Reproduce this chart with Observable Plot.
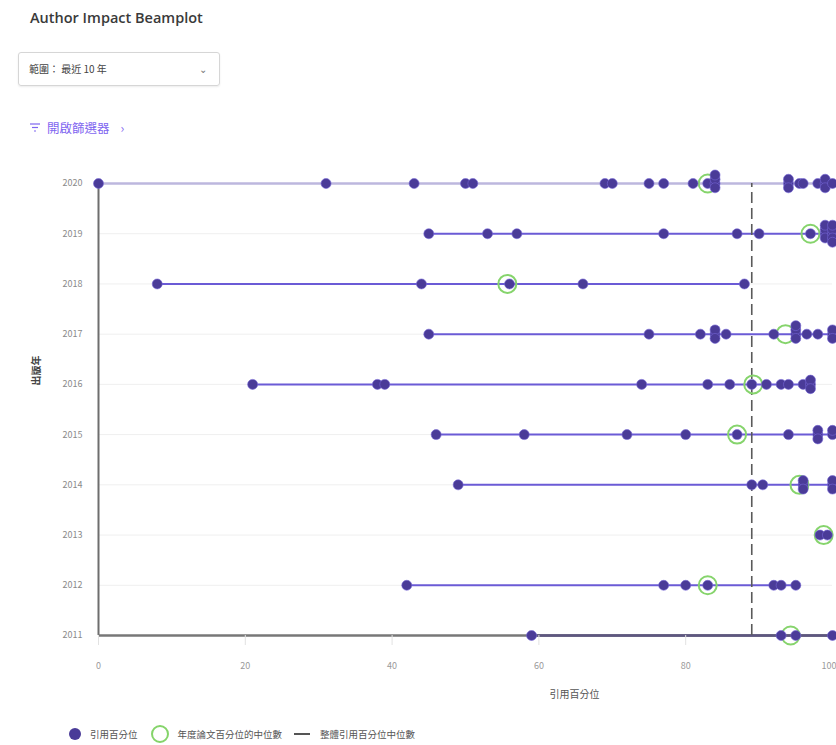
<!DOCTYPE html>
<html>
<head>
<meta charset="utf-8">
<script src="https://cdn.jsdelivr.net/npm/d3@7"></script>
<script src="https://cdn.jsdelivr.net/npm/@observablehq/plot@0.6"></script>
<style>
  body { margin: 0; background: #fff; font-family: "Noto Sans CJK TC", "Noto Sans", "Open Sans", sans-serif; color: #333; }
  #page { position: relative; width: 836px; height: 745px; overflow: hidden; }
  .title { position: absolute; left: 30px; top: 8px; font-family: "Open Sans", "Noto Sans", sans-serif; font-size: 14.5px; font-weight: 600; color: #3a3a3a; }
  .select { position: absolute; left: 18px; top: 52px; width: 200px; height: 32px; border: 1px solid #d6d6d6; border-radius: 3px; box-shadow: 0 1px 2px rgba(0,0,0,0.08); font-size: 10px; color: #444; }
  .select .lbl { position: absolute; left: 10px; top: 8px; }
  .select .chev { position: absolute; right: 12px; top: 8px; font-size: 10px; color: #777; }
  .filter { position: absolute; left: 30px; top: 118px; font-size: 12.5px; color: #7f66f0; display: flex; align-items: center; gap: 7px; }
  #chart { position: absolute; left: 0; top: 150px; }
  .legend { position: absolute; left: 68px; top: 724px; display: flex; align-items: center; font-size: 9.5px; color: #555; }
  .legend .item { display: flex; align-items: center; margin-right: 12px; }
  .legend svg { margin-right: 8px; }
</style>
</head>
<body>
<div id="page">
  <div class="title">Author Impact Beamplot</div>
  <div class="select"><span class="lbl">範圍： 最近 10 年</span><span class="chev">⌄</span></div>
  <div class="filter">
    <svg width="10" height="9"><line x1="0" y1="1" x2="10" y2="1" stroke="#7f66f0" stroke-width="1.2"/><line x1="2" y1="4.5" x2="8" y2="4.5" stroke="#7f66f0" stroke-width="1.2"/><line x1="4" y1="8" x2="6" y2="8" stroke="#7f66f0" stroke-width="1.2"/></svg>
    <span>開啟篩選器</span><span style="margin-left:4px">›</span>
  </div>
  <div id="chart"></div>
  <div class="legend">
    <div class="item"><svg width="14" height="14"><circle cx="7" cy="7" r="6" fill="#4a3b98"/></svg><span>引用百分位</span></div>
    <div class="item"><svg width="20" height="20"><circle cx="10" cy="10" r="8" fill="none" stroke="#85d46a" stroke-width="2"/></svg><span>年度論文百分位的中位數</span></div>
    <div class="item"><svg width="18" height="10"><line x1="0" y1="5" x2="16" y2="5" stroke="#555" stroke-width="2"/></svg><span>整體引用百分位中位數</span></div>
  </div>
</div>
<script>
// ---- data ----
const years = [2020, 2019, 2018, 2017, 2016, 2015, 2014, 2013, 2012, 2011];
const p2020 = [0, 31, 43, 50, 51, 69, 70, 75, 77, 81, 83, 84, 84, 84, 84, 94, 94, 94, 95.5, 96, 98, 99, 99, 99, 100];
const p2019 = [45, 53, 57, 77, 87, 90, 97, 99, 99, 99, 99, 100, 100, 100, 100, 100];
const p2018 = [8, 44, 56, 66, 88];
const p2017 = [45, 75, 82, 84, 84, 84, 85.5, 92, 95, 95, 95, 95, 96.5, 98, 100, 100, 100];
const p2016 = [21, 38, 39, 74, 83, 86, 89, 91, 93, 94, 96, 97, 97, 97];
const p2015 = [46, 58, 72, 80, 87, 94, 98, 98, 98, 100, 100];
const p2014 = [49, 89, 90.5, 96, 96, 96, 100, 100, 100];
const p2013 = [98.3, 99.3];
const p2012 = [42, 77, 80, 83, 92, 93, 95];
const p2011 = [59, 93, 95, 100];
const percentilesByYear = [p2020, p2019, p2018, p2017, p2016, p2015, p2014, p2013, p2012, p2011];
const yearMedians = [83, 97, 55.7, 93.6, 89.2, 87, 95.5, 98.8, 83, 94.3];
const overallMedian = 89;
const xTicks = [0, 20, 40, 60, 80, 100];

// ---- tables built from the arrays ----
const stackStep = 0.085; // vertical spread (in years) for repeated values
const dots = [];
years.forEach((year, i) => {
  const seen = new Map();
  for (const v of percentilesByYear[i]) {
    const k = seen.get(v) || 0;
    seen.set(v, k + 1);
    const level = k === 0 ? 0 : (k % 2 ? 1 : -1) * Math.ceil(k / 2);
    dots.push({year, value: v, level});
  }
});
const beams = years.map((year, i) => ({year, min: d3.min(percentilesByYear[i]), max: d3.max(percentilesByYear[i])}));
const medians = years.map((year, i) => ({year, median: yearMedians[i]}));
const firstYear = d3.min(years), lastYear = d3.max(years);
const xMax = d3.max(xTicks);

const chart = Plot.plot({
  width: 836,
  height: 560,
  marginTop: 33,
  marginBottom: 75,
  marginLeft: 98,
  marginRight: 4,
  style: {fontFamily: '"Noto Sans CJK TC", "Noto Sans", sans-serif', fontSize: "9px", background: "transparent"},
  x: {domain: [0, xMax]},
  y: {domain: [firstYear, lastYear]},
  marks: [
    Plot.ruleY(years, {stroke: "#efefef", strokeWidth: 1}),
    Plot.ruleY(beams.filter(d => d.year !== lastYear), {y: "year", x1: "min", x2: "max", stroke: "#6b5bd6", strokeWidth: 2}),
    Plot.ruleY(beams.filter(d => d.year === lastYear), {y: "year", x1: "min", x2: "max", stroke: "#bdb7de", strokeWidth: 2.5}),
    Plot.ruleX([0], {y1: firstYear, y2: lastYear, stroke: "#6e6e6e", strokeWidth: 2}),
    Plot.ruleY([firstYear], {x1: 0, x2: xMax, stroke: "#777", strokeWidth: 2.5}),
    Plot.ruleY(beams.filter(d => d.year === firstYear), {y: "year", x1: "min", x2: "max", stroke: "#5e5780", strokeWidth: 2.5}),
    Plot.ruleX([overallMedian], {y1: firstYear, y2: lastYear, stroke: "#5a5a5a", strokeWidth: 1.6, strokeDasharray: "11,5"}),
    Plot.dot(medians, {x: "median", y: "year", r: 9, stroke: "#86d46c", strokeWidth: 2, fill: "none"}),
    Plot.dot(dots, {x: "value", y: d => d.year + d.level * stackStep, r: 5, fill: "#4a3b98", stroke: "#7566d6", strokeWidth: 0.6}),
    Plot.axisY({ticks: years, tickFormat: d => String(d), tickSize: 0, tickPadding: 16, color: "#8a8a8a", label: null}),
    Plot.axisX({ticks: xTicks.filter(t => t !== xMax), tickSize: 10, tickPadding: 17, stroke: "#e2e2e2", color: "#9a9a9a", label: null}),
    Plot.axisX({ticks: [xMax], tickSize: 10, tickPadding: 17, stroke: "#e2e2e2", color: "#9a9a9a", textAnchor: "end", dx: 4, label: null}),
    Plot.text(["引用百分位"], {frameAnchor: "bottom", dx: 109, dy: 62, fontSize: 10, fill: "#555"}),
    Plot.text(["出版年"], {frameAnchor: "left", rotate: -90, dx: -62, dy: -24, fontSize: 10, fontWeight: "bold", fill: "#444"})
  ]
});
document.getElementById("chart").appendChild(chart);
</script>
</body>
</html>
